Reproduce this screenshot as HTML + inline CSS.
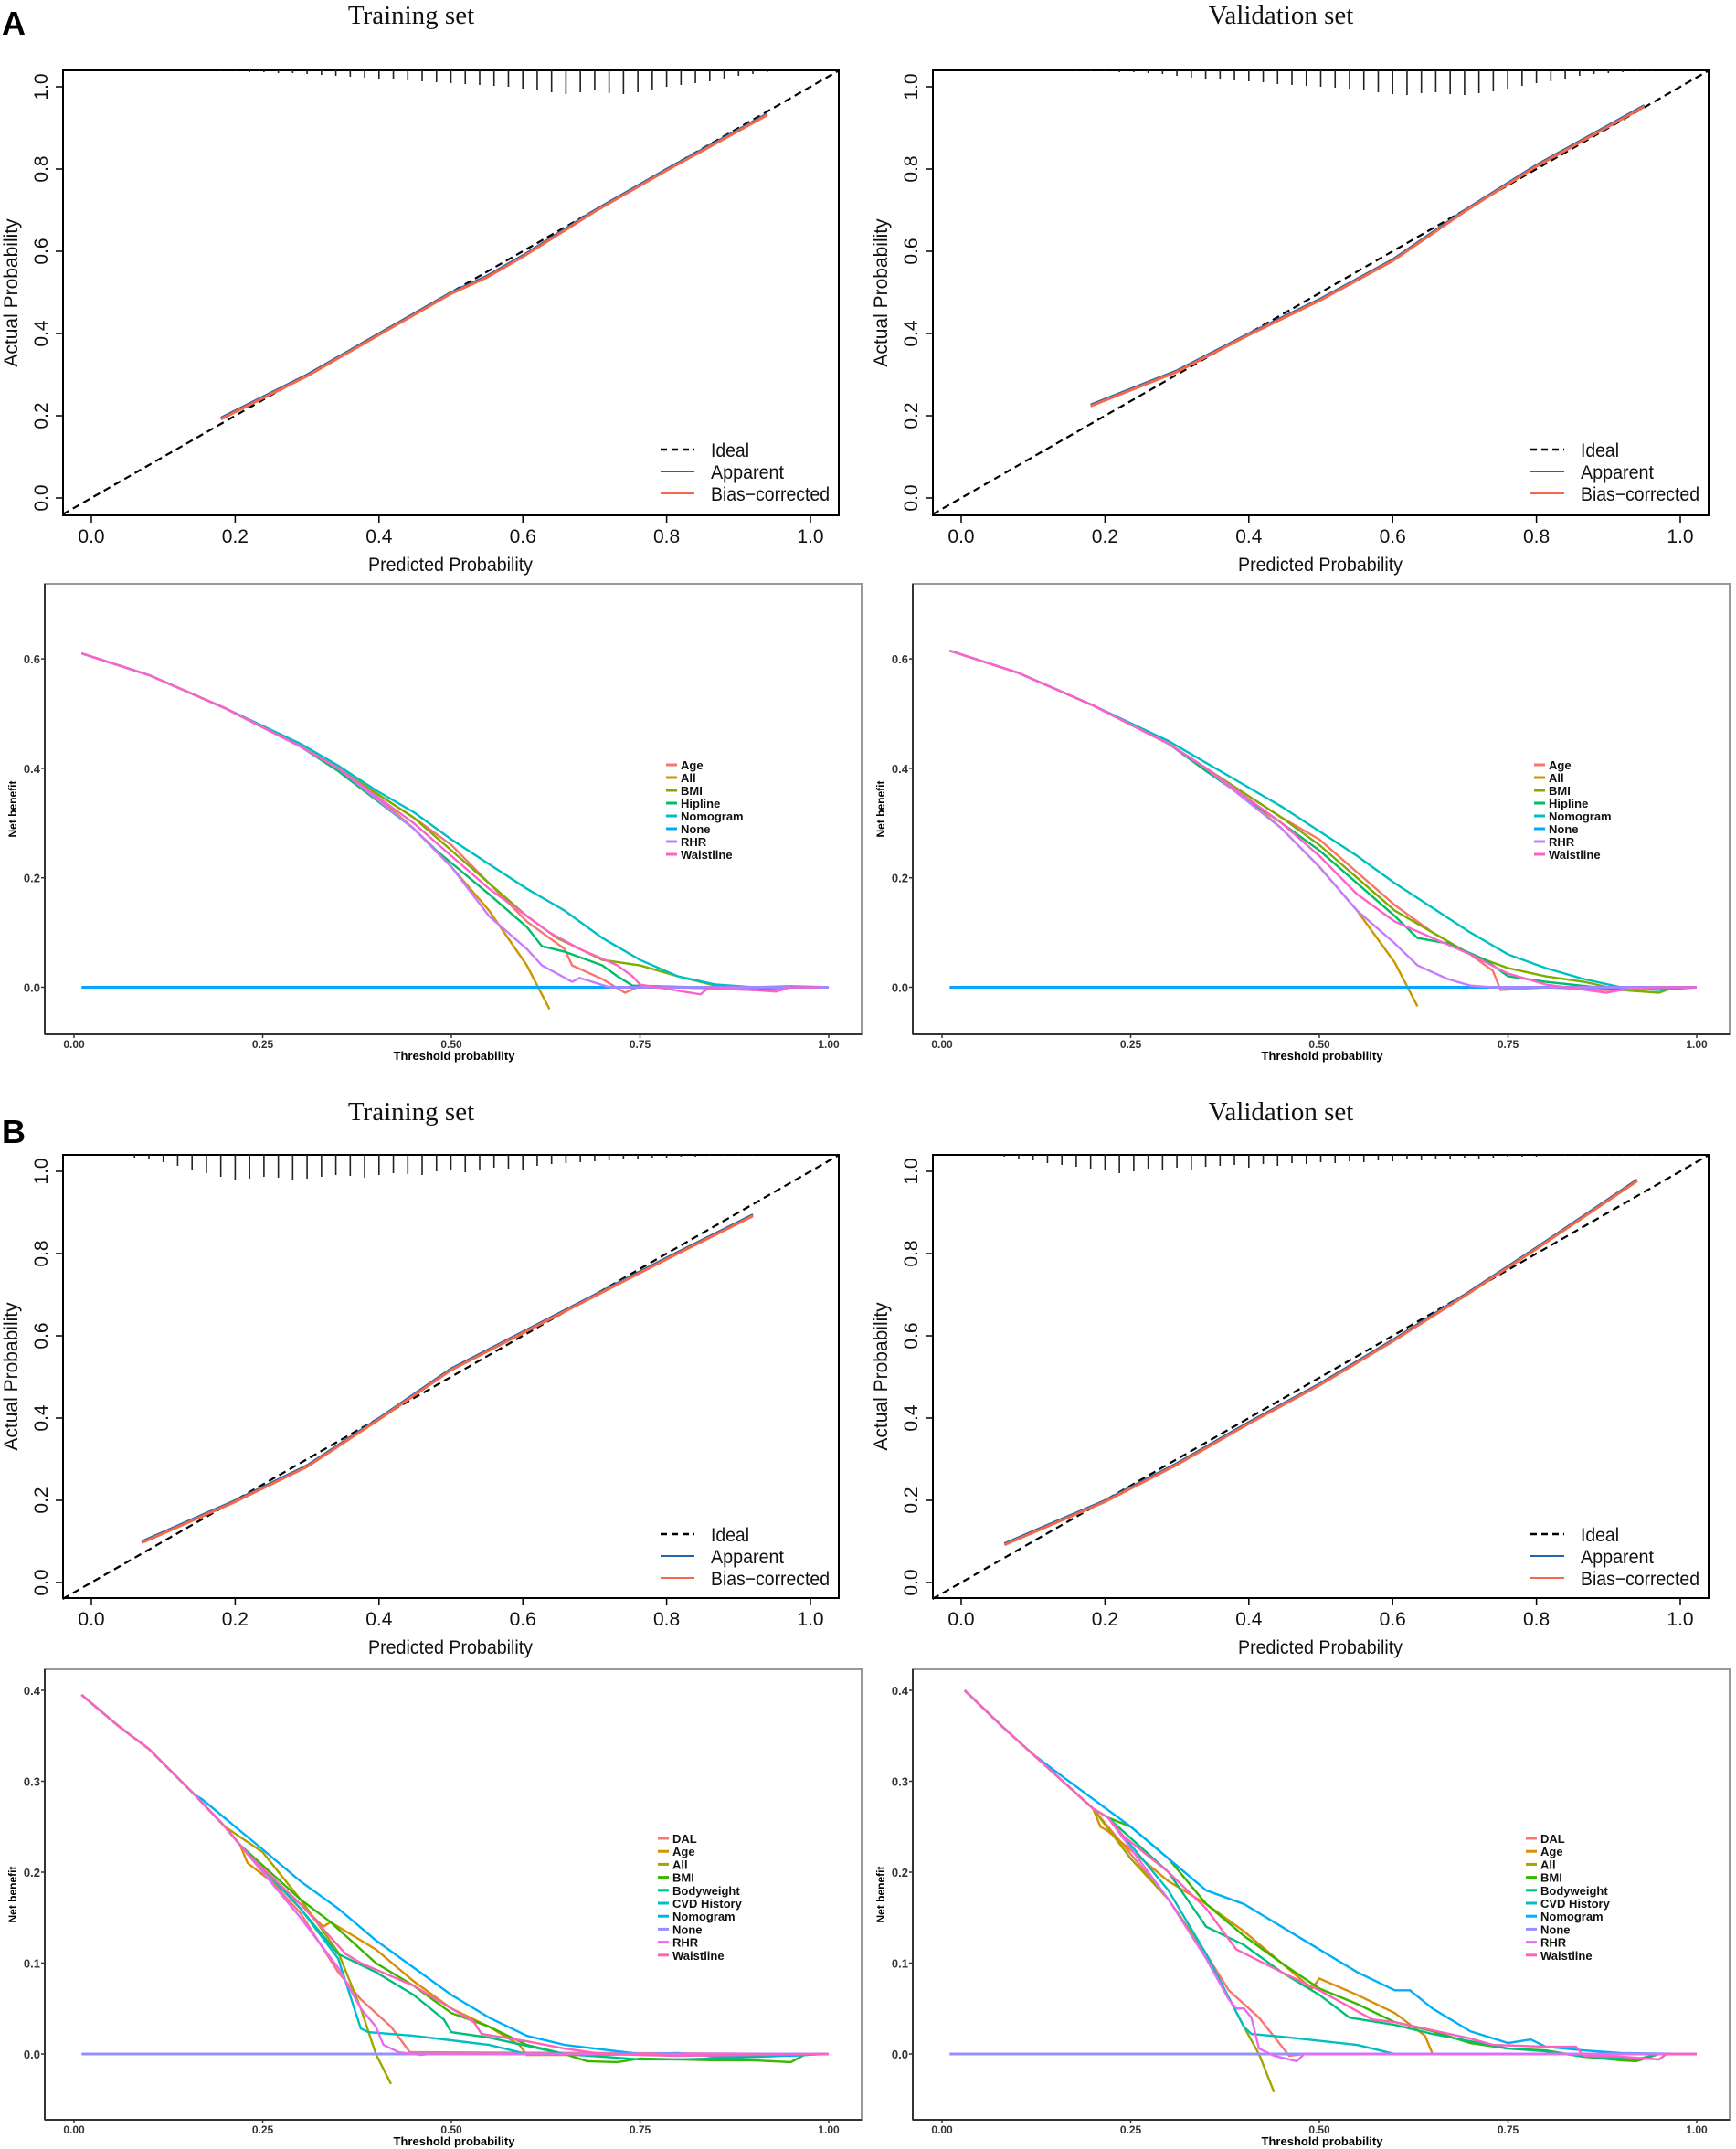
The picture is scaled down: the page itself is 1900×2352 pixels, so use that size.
<!DOCTYPE html>
<html><head><meta charset="utf-8"><style>
body{margin:0;background:#fff}
svg{display:block}
.tk{font-family:"Liberation Sans",sans-serif;font-size:21px;fill:#111}
.dk{font-family:"Liberation Sans",sans-serif;font-size:13px;font-weight:bold;fill:#333}
.ttl{font-family:"Liberation Serif",serif;font-size:29px;fill:#111}
</style></head><body>
<svg id="fig" width="1900" height="2352" viewBox="0 0 1900 2352" xmlns="http://www.w3.org/2000/svg">
<text x="2" y="38" font-family="Liberation Sans,sans-serif" font-weight="bold" font-size="36">A</text>
<text x="2" y="1251" font-family="Liberation Sans,sans-serif" font-weight="bold" font-size="36">B</text>
</svg>
<script>
// ---- calibration data ----
const calX_A_train=[0.18,0.3,0.4,0.5,0.55,0.6,0.7,0.8,0.94];
const calY_A_train=[0.195,0.30,0.40,0.50,0.54,0.59,0.70,0.80,0.935];
const calX_A_val=[0.18,0.3,0.4,0.5,0.6,0.65,0.7,0.8,0.95];
const calY_A_val=[0.227,0.31,0.40,0.485,0.58,0.64,0.70,0.81,0.955];
const calX_B_train=[0.07,0.2,0.3,0.4,0.5,0.6,0.7,0.8,0.92];
const calY_B_train=[0.10,0.20,0.285,0.40,0.52,0.61,0.70,0.79,0.895];
const calX_B_val=[0.06,0.2,0.3,0.4,0.5,0.6,0.7,0.8,0.94];
const calY_B_val=[0.095,0.20,0.29,0.39,0.485,0.59,0.70,0.815,0.98];
const rugStart=[0.18,0.16,0.06,0.06];
const rug_A_train=[1,1,2,2,3,3,4,5,6,7,8,9,10,11,12,13,14,15,16,17,18,20,22,24,26,24,22,25,26,24,22,18,16,14,12,10,6,4,2];
const rug_A_val=[1,1,1,2,2,3,4,6,8,9,10,11,12,13,15,16,17,18,19,20,22,24,26,27,25,24,26,27,25,23,20,17,14,12,9,6,4,3,2,1,1];
const rug_B_train=[3,5,8,12,16,20,24,28,26,24,25,27,26,24,22,23,25,22,20,21,22,18,17,19,16,14,15,16,12,10,9,8,7,6,5,4,3,3,2,2,1,1,1,1];
const rug_B_val=[2,4,6,9,11,13,15,17,20,18,15,17,14,16,13,12,11,14,10,12,9,10,8,9,7,8,6,7,5,6,4,5,3,4,3,2,2,2,1,1,1,1,1,1,1,1];
const calTicks=[0,0.2,0.4,0.6,0.8,1.0];
const calTickLabels=["0.0","0.2","0.4","0.6","0.8","1.0"];

// ---- DCA data: panel A ----
const dcaA_names=["Age","All","BMI","Hipline","Nomogram","None","RHR","Waistline"];
const dcaA_colors=["#F8766D","#CD9600","#7CAE00","#00BE67","#00BFC4","#00A9FF","#C77CFF","#FF61CC"];
const dcaA_train=[
 [[0.01,0.61],[0.1,0.57],[0.2,0.51],[0.3,0.44],[0.35,0.40],[0.45,0.31],[0.5,0.26],[0.55,0.19],[0.6,0.12],[0.65,0.07],[0.66,0.04],[0.7,0.015],[0.73,-0.01],[0.75,0.002],[0.8,0],[0.9,-0.005],[0.95,0],[1.0,0]],
 [[0.01,0.61],[0.1,0.57],[0.2,0.51],[0.3,0.44],[0.35,0.40],[0.4,0.35],[0.45,0.29],[0.5,0.22],[0.55,0.14],[0.6,0.04],[0.63,-0.04]],
 [[0.01,0.61],[0.1,0.57],[0.2,0.51],[0.3,0.44],[0.35,0.40],[0.45,0.31],[0.5,0.25],[0.55,0.19],[0.6,0.13],[0.64,0.09],[0.67,0.07],[0.7,0.05],[0.75,0.04],[0.8,0.02],[0.85,0.003],[0.9,-0.002],[0.95,0]],
 [[0.01,0.61],[0.1,0.57],[0.2,0.51],[0.3,0.44],[0.35,0.395],[0.45,0.29],[0.48,0.25],[0.55,0.17],[0.6,0.11],[0.62,0.075],[0.65,0.065],[0.7,0.04],[0.72,0.02],[0.74,0.003],[0.8,0.001],[0.9,-0.003],[0.95,0]],
 [[0.01,0.61],[0.1,0.57],[0.2,0.51],[0.3,0.445],[0.35,0.405],[0.4,0.36],[0.45,0.32],[0.5,0.27],[0.55,0.225],[0.6,0.18],[0.65,0.14],[0.7,0.09],[0.75,0.05],[0.8,0.02],[0.85,0.005],[0.9,0],[0.95,0.002],[1.0,0]],
 [[0.01,0],[1.0,0]],
 [[0.01,0.61],[0.1,0.57],[0.2,0.51],[0.3,0.44],[0.35,0.40],[0.45,0.29],[0.5,0.22],[0.55,0.13],[0.6,0.07],[0.62,0.04],[0.66,0.01],[0.67,0.017],[0.71,0],[1.0,0]],
 [[0.01,0.61],[0.1,0.57],[0.2,0.51],[0.3,0.44],[0.35,0.40],[0.45,0.30],[0.5,0.24],[0.55,0.18],[0.6,0.13],[0.63,0.10],[0.67,0.07],[0.72,0.04],[0.74,0.02],[0.75,0.005],[0.83,-0.013],[0.84,-0.002],[0.9,-0.005],[0.93,-0.008],[0.95,0],[0.99,0]]
];
const dcaA_val=[
 [[0.01,0.615],[0.1,0.575],[0.2,0.515],[0.3,0.445],[0.35,0.40],[0.45,0.31],[0.5,0.27],[0.55,0.21],[0.6,0.15],[0.65,0.10],[0.7,0.06],[0.73,0.03],[0.74,-0.005],[0.8,0],[0.88,-0.005],[0.95,0],[1.0,0]],
 [[0.01,0.615],[0.1,0.575],[0.2,0.515],[0.3,0.445],[0.35,0.40],[0.4,0.35],[0.45,0.29],[0.5,0.22],[0.55,0.14],[0.6,0.045],[0.63,-0.035]],
 [[0.01,0.615],[0.1,0.575],[0.2,0.515],[0.3,0.445],[0.35,0.40],[0.45,0.31],[0.5,0.26],[0.55,0.20],[0.6,0.14],[0.65,0.10],[0.7,0.06],[0.75,0.035],[0.8,0.02],[0.85,0.01],[0.9,-0.005],[0.95,-0.01],[0.97,0]],
 [[0.01,0.615],[0.1,0.575],[0.2,0.515],[0.3,0.445],[0.35,0.395],[0.45,0.30],[0.5,0.25],[0.55,0.19],[0.6,0.13],[0.63,0.09],[0.67,0.08],[0.72,0.05],[0.75,0.02],[0.8,0.01],[0.9,-0.005],[0.95,0]],
 [[0.01,0.615],[0.1,0.575],[0.2,0.515],[0.3,0.45],[0.35,0.41],[0.4,0.37],[0.45,0.33],[0.5,0.285],[0.55,0.24],[0.6,0.19],[0.65,0.145],[0.7,0.10],[0.75,0.06],[0.8,0.035],[0.85,0.015],[0.9,0],[0.95,-0.005],[1.0,0]],
 [[0.01,0],[1.0,0]],
 [[0.01,0.615],[0.1,0.575],[0.2,0.515],[0.3,0.445],[0.35,0.40],[0.45,0.29],[0.5,0.22],[0.55,0.14],[0.6,0.08],[0.63,0.04],[0.67,0.015],[0.7,0.003],[0.73,0],[1.0,0]],
 [[0.01,0.615],[0.1,0.575],[0.2,0.515],[0.3,0.445],[0.35,0.40],[0.45,0.30],[0.5,0.24],[0.55,0.17],[0.6,0.12],[0.65,0.09],[0.7,0.06],[0.75,0.025],[0.8,0.005],[0.88,-0.01],[0.9,-0.005],[0.95,0],[1.0,0]]
];
const dcaA_ticks=[0,0.2,0.4,0.6];
const dcaA_tickLabels=["0.0","0.2","0.4","0.6"];

// ---- DCA data: panel B ----
const dcaB_names=["DAL","Age","All","BMI","Bodyweight","CVD History","Nomogram","None","RHR","Waistline"];
const dcaB_colors=["#F8766D","#D89000","#A3A500","#39B600","#00BF7D","#00BFC4","#00B0F6","#9590FF","#E76BF3","#FF62BC"];
const headB_train=[[0.01,0.395],[0.06,0.36],[0.1,0.335],[0.16,0.285],[0.2,0.25]];
const headB_val=[[0.03,0.40],[0.08,0.36],[0.12,0.33],[0.16,0.30],[0.2,0.27]];
const dcaB_train=[
 [[0.25,0.20],[0.3,0.155],[0.35,0.09],[0.38,0.06],[0.42,0.03],[0.445,0.002],[1.0,0]],
 [[0.22,0.23],[0.23,0.21],[0.3,0.165],[0.33,0.14],[0.34,0.145],[0.4,0.115],[0.45,0.08],[0.5,0.05],[0.55,0.03],[0.59,0.01],[0.6,-0.001],[0.7,-0.001],[0.75,0],[1.0,0]],
 [[0.25,0.222],[0.3,0.17],[0.35,0.112],[0.38,0.05],[0.4,0],[0.42,-0.033]],
 [[0.22,0.23],[0.3,0.17],[0.34,0.145],[0.4,0.10],[0.45,0.075],[0.5,0.045],[0.55,0.03],[0.6,0.01],[0.65,0],[0.68,-0.008],[0.72,-0.009],[0.75,-0.005],[0.8,-0.006],[0.85,-0.007],[0.9,-0.007],[0.95,-0.009],[0.97,0],[0.99,0]],
 [[0.22,0.23],[0.3,0.16],[0.35,0.11],[0.4,0.09],[0.45,0.065],[0.49,0.038],[0.5,0.024],[0.55,0.018],[0.6,0.009],[0.65,0],[0.7,-0.003],[0.75,-0.006],[0.8,-0.006],[0.85,-0.005],[1.0,0]],
 [[0.22,0.23],[0.3,0.16],[0.35,0.105],[0.38,0.028],[0.39,0.024],[0.45,0.02],[0.55,0.01],[0.6,0],[1.0,0]],
 [[0.17,0.28],[0.25,0.225],[0.3,0.19],[0.35,0.16],[0.4,0.125],[0.45,0.095],[0.5,0.065],[0.55,0.04],[0.6,0.02],[0.65,0.01],[0.7,0.005],[0.75,0],[0.8,0.001],[0.85,-0.003],[0.9,-0.001],[0.95,-0.002],[0.99,0]],
 [[0.01,0],[1.0,0]],
 [[0.22,0.23],[0.3,0.15],[0.35,0.095],[0.38,0.05],[0.4,0.03],[0.41,0.01],[0.43,0.002],[0.46,-0.001],[0.47,0],[1.0,0]],
 [[0.23,0.22],[0.3,0.165],[0.36,0.11],[0.38,0.10],[0.45,0.075],[0.5,0.05],[0.53,0.035],[0.54,0.022],[0.6,0.014],[0.65,0.006],[0.7,0],[0.75,-0.001],[0.8,-0.002],[1.0,0]]
];
const dcaB_val=[
 [[0.22,0.25],[0.3,0.17],[0.35,0.11],[0.38,0.07],[0.42,0.04],[0.46,-0.002],[0.48,0],[1.0,0]],
 [[0.21,0.25],[0.22,0.245],[0.3,0.19],[0.35,0.165],[0.4,0.135],[0.45,0.10],[0.49,0.072],[0.5,0.083],[0.55,0.065],[0.6,0.045],[0.64,0.02],[0.65,0],[0.78,0],[1.0,0]],
 [[0.25,0.215],[0.3,0.17],[0.35,0.11],[0.4,0.03],[0.42,0],[0.44,-0.042]],
 [[0.22,0.26],[0.25,0.25],[0.3,0.215],[0.35,0.165],[0.4,0.13],[0.45,0.10],[0.5,0.072],[0.55,0.055],[0.6,0.035],[0.65,0.025],[0.7,0.012],[0.75,0.006],[0.8,0.004],[0.85,-0.003],[0.9,-0.007],[0.92,-0.008],[0.95,0],[1.0,0]],
 [[0.22,0.26],[0.3,0.2],[0.35,0.14],[0.4,0.12],[0.45,0.09],[0.5,0.065],[0.54,0.04],[0.6,0.032],[0.65,0.022],[0.7,0.014],[0.75,0.006],[0.8,0.003],[0.85,-0.003],[0.9,-0.005],[0.92,-0.006],[0.95,0]],
 [[0.22,0.26],[0.3,0.18],[0.35,0.11],[0.4,0.03],[0.41,0.022],[0.45,0.019],[0.55,0.01],[0.6,0],[1.0,0]],
 [[0.16,0.305],[0.25,0.25],[0.3,0.215],[0.35,0.18],[0.4,0.165],[0.45,0.14],[0.5,0.115],[0.55,0.09],[0.6,0.07],[0.62,0.07],[0.65,0.05],[0.7,0.025],[0.75,0.012],[0.78,0.016],[0.8,0.008],[0.85,0.004],[0.9,0.001],[1.0,0]],
 [[0.01,0],[1.0,0]],
 [[0.22,0.26],[0.3,0.17],[0.35,0.105],[0.38,0.06],[0.39,0.05],[0.4,0.05],[0.41,0.04],[0.42,0.006],[0.44,-0.002],[0.47,-0.008],[0.48,0],[1.0,0]],
 [[0.22,0.26],[0.24,0.24],[0.3,0.2],[0.35,0.16],[0.39,0.115],[0.45,0.09],[0.5,0.07],[0.57,0.038],[0.6,0.035],[0.7,0.017],[0.73,0.01],[0.8,0.008],[0.84,0.008],[0.85,-0.002],[0.9,-0.003],[0.95,-0.006],[0.96,0],[1.0,0]]
];
const dcaB_ticks=[0,0.1,0.2,0.3,0.4];
const dcaB_tickLabels=["0.0","0.1","0.2","0.3","0.4"];
const dcaXTicks=[0,0.25,0.5,0.75,1.0];
const dcaXTickLabels=["0.00","0.25","0.50","0.75","1.00"];

const NS="http://www.w3.org/2000/svg";
const svg=document.getElementById('fig');
function mk(tag,attrs,parent){const e=document.createElementNS(NS,tag);for(const k in attrs)e.setAttribute(k,attrs[k]);(parent||svg).appendChild(e);return e;}
function txt(s,attrs,parent){const e=mk('text',attrs,parent);e.textContent=s;return e;}

function calPanel(ox,cfg,xs,ys,rug,rugX0,name){
  const g=mk('g',{});
  
  
  const X=v=>ox+100+v*787, Y=v=>cfg.y0-v*(cfg.y0-cfg.y1);
  const t=txt(cfg.title,{x:ox+450,y:cfg.ty,'text-anchor':'middle',class:'ttl'},g);
  
  
  mk('rect',{x:ox+69,y:cfg.bt,width:849,height:cfg.bb-cfg.bt,fill:'none',stroke:'#000','stroke-width':2},g);
  for(let i=0;i<rug.length;i++){
    const l=mk('line',{x1:X(rugX0+i*0.02),x2:X(rugX0+i*0.02),y1:cfg.bt,y2:cfg.bt+rug[i],stroke:'#222','stroke-width':1.6},g);
    
    
  }
  const id=mk('line',{x1:X(-0.04),y1:Y(-0.04),x2:X(1.04),y2:Y(1.04),stroke:'#000','stroke-width':2.2,'stroke-dasharray':'8,5'},g);
  
  
  const pts=xs.map((x,i)=>X(x)+','+Y(ys[i])).join(' ');
  const pts2=xs.map((x,i)=>X(x)+','+(Y(ys[i])+1.5)).join(' ');
  const ap=mk('polyline',{points:pts,fill:'none',stroke:'#2166AC','stroke-width':2.5},g);
  
  
  const bc=mk('polyline',{points:pts2,fill:'none',stroke:'#F4694A','stroke-width':3},g);
  
  
  calTicks.forEach((v,i)=>{
    mk('line',{x1:X(v),x2:X(v),y1:cfg.bb,y2:cfg.bb+8,stroke:'#000','stroke-width':1.5},g);
    txt(calTickLabels[i],{x:X(v),y:cfg.bb+30,'text-anchor':'middle',class:'tk'},g);
    mk('line',{x1:ox+61,x2:ox+69,y1:Y(v),y2:Y(v),stroke:'#000','stroke-width':1.5},g);
    txt(calTickLabels[i],{x:0,y:0,'text-anchor':'middle',class:'tk',transform:`translate(${ox+52},${Y(v)}) rotate(-90)`},g);
  });
  const xt=txt('Predicted Probability',{x:ox+403,y:cfg.bb+61,class:'tk',textLength:180,lengthAdjust:'spacingAndGlyphs'},g);
  
  
  const yt=txt('Actual Probability',{x:0,y:0,'text-anchor':'middle',class:'tk',transform:`translate(${ox+19},${(cfg.bt+cfg.bb)/2}) rotate(-90)`},g);
  
  
  const lg=mk('g',{},g);
  
  
  const ly=cfg.ly;
  mk('line',{x1:ox+723,x2:ox+760,y1:ly,y2:ly,stroke:'#000','stroke-width':2.5,'stroke-dasharray':'7,5'},lg);
  mk('line',{x1:ox+723,x2:ox+760,y1:ly+24,y2:ly+24,stroke:'#2166AC','stroke-width':2},lg);
  mk('line',{x1:ox+723,x2:ox+760,y1:ly+48,y2:ly+48,stroke:'#F4694A','stroke-width':2},lg);
  const lens=[42,80,130];
  ['Ideal','Apparent','Bias\u2212corrected'].forEach((s,i)=>txt(s,{x:ox+778,y:ly+8+24*i,class:'tk',textLength:lens[i],lengthAdjust:'spacingAndGlyphs'},lg));
}

function dcaPanel(ox,cfg,names,colors,series,head,ticks,tickLabels,name){
  const g=mk('g',{});
  
  
  const X=v=>ox+81+v*826, Y=v=>cfg.y0-v*cfg.k;
  mk('rect',{x:ox+49,y:cfg.bt,width:894,height:cfg.bb-cfg.bt,fill:'none',stroke:'#999','stroke-width':2},g);
  mk('line',{x1:ox+49,x2:ox+49,y1:cfg.bt,y2:cfg.bb,stroke:'#333','stroke-width':2},g);
  mk('line',{x1:ox+49,x2:ox+943,y1:cfg.bb,y2:cfg.bb,stroke:'#333','stroke-width':2},g);
  ticks.forEach((v,i)=>{
    mk('line',{x1:ox+45,x2:ox+49,y1:Y(v),y2:Y(v),stroke:'#333','stroke-width':1.5},g);
    txt(tickLabels[i],{x:ox+44,y:Y(v)+5,'text-anchor':'end',class:'dk'},g);
  });
  dcaXTicks.forEach((v,i)=>{
    mk('line',{x1:X(v),x2:X(v),y1:cfg.bb,y2:cfg.bb+4,stroke:'#333','stroke-width':1.5},g);
    txt(dcaXTickLabels[i],{x:X(v),y:cfg.bb+15,'text-anchor':'middle',class:'dk',style:'font-size:12px'},g);
  });
  const xt=txt('Threshold probability',{x:ox+497,y:cfg.bb+28,'text-anchor':'middle',class:'dk',style:'fill:#000'},g);
  
  
  const yt=txt('Net benefit',{x:0,y:0,'text-anchor':'middle',class:'dk',style:'fill:#000;font-size:12px',transform:`translate(${ox+18},${(cfg.bt+cfg.bb)/2}) rotate(-90)`},g);
  
  
  series.forEach((s,i)=>{
    const pts=(s.length>2&&head?head.filter(p=>p[0]<s[0][0]).concat(s):s);
    const full=(names[i]!=='None'&&head&&s[0][0]>0.05)?pts:s;
    const p=mk('polyline',{points:full.map(q=>X(q[0])+','+Y(q[1])).join(' '),fill:'none',stroke:colors[i],'stroke-width':names[i]==='None'?3:2.4},g);
    
    
  });
  const lg=mk('g',{},g);
  
  
  names.forEach((n,i)=>{
    const y=cfg.ly+i*cfg.ls;
    mk('line',{x1:ox+cfg.lx,x2:ox+cfg.lx+12,y1:y,y2:y,stroke:colors[i],'stroke-width':3},lg);
    txt(n,{x:ox+cfg.lx+16,y:y+5,class:'dk',style:'fill:#111'},lg);
  });
}

const calA={title:'',ty:26,bt:77,bb:564,y0:545,y1:95,ly:492};
const calB={title:'',ty:1226,bt:1264,bb:1749,y0:1732,y1:1282,ly:1679};
calPanel(0,Object.assign({},calA,{title:'Training set'}),calX_A_train,calY_A_train,rug_A_train,rugStart[0],'calibration-a-training');
calPanel(952,Object.assign({},calA,{title:'Validation set'}),calX_A_val,calY_A_val,rug_A_val,rugStart[1],'calibration-a-validation');
calPanel(0,Object.assign({},calB,{title:'Training set'}),calX_B_train,calY_B_train,rug_B_train,rugStart[2],'calibration-b-training');
calPanel(952,Object.assign({},calB,{title:'Validation set'}),calX_B_val,calY_B_val,rug_B_val,rugStart[3],'calibration-b-validation');

const dA={bt:639,bb:1132,y0:1080.5,k:599,lx:729,ly:837,ls:14};
const dB={bt:1827,bb:2320,y0:2248,k:995,lx:720,ly:2012,ls:14.2};
dcaPanel(0,dA,dcaA_names,dcaA_colors,dcaA_train,null,dcaA_ticks,dcaA_tickLabels,'dca-a-training');
dcaPanel(950,dA,dcaA_names,dcaA_colors,dcaA_val,null,dcaA_ticks,dcaA_tickLabels,'dca-a-validation');
dcaPanel(0,dB,dcaB_names,dcaB_colors,dcaB_train,headB_train,dcaB_ticks,dcaB_tickLabels,'dca-b-training');
dcaPanel(950,dB,dcaB_names,dcaB_colors,dcaB_val,headB_val,dcaB_ticks,dcaB_tickLabels,'dca-b-validation');
</script>
</body></html>
